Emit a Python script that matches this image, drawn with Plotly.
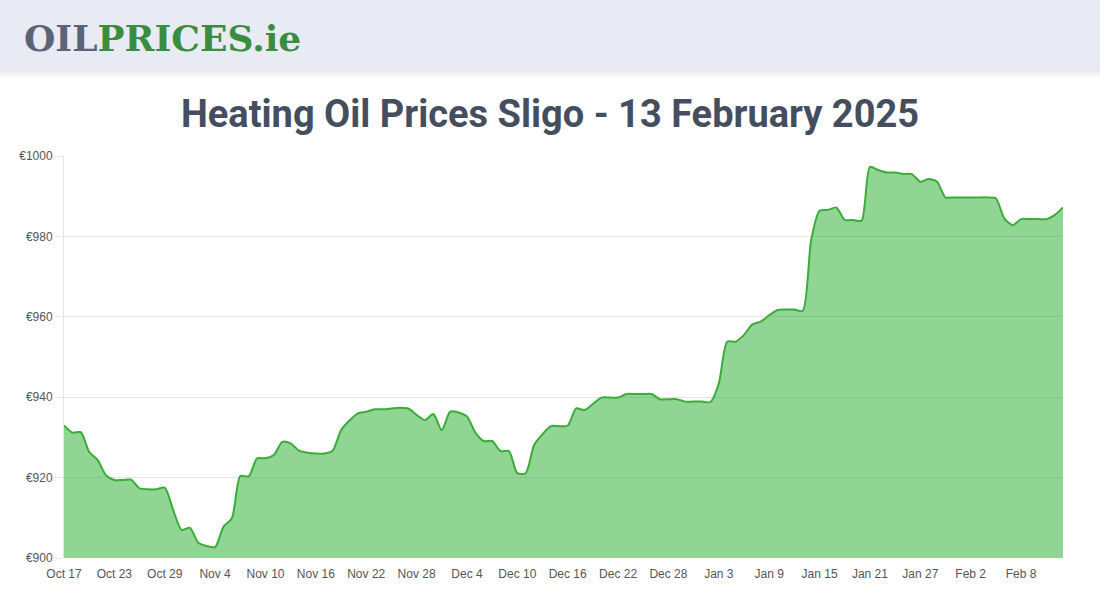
import pandas as pd
import plotly.graph_objects as go

start_date = "2024-10-17"
prices = [
    933, 931.2, 931.3, 926.4, 924.4, 920.6, 919.4, 919.4, 919.5, 917.3,
    917.1, 917.1, 917.5, 912, 907, 907.5, 903.8, 903, 902.7, 907.8,
    909.9, 920.4, 920.3, 924.8, 924.8, 925.6, 928.9, 928.5, 926.7, 926.2,
    926, 926, 926.7, 931.8, 934.2, 936, 936.4, 937, 937, 937.2,
    937.4, 937.2, 935.6, 934.3, 935.8, 931.8, 936.4, 936.2, 935.2, 931.2,
    929.1, 929.1, 926.6, 926.6, 921.1, 921.1, 928.1, 930.8, 932.8, 932.8,
    932.9, 937.2, 936.8, 938.3, 939.9, 939.9, 939.9, 940.8, 940.8, 940.8,
    940.8, 939.5, 939.5, 939.5, 938.9, 938.9, 938.9, 938.8, 943.4, 953.8,
    953.8, 955.5, 958.1, 958.8, 960.4, 961.7, 961.8, 961.8, 961.5, 979.1,
    986.4, 986.6, 987.2, 984.1, 984.1, 983.9, 997.3, 996.5, 995.9, 995.9,
    995.5, 995.5, 993.6, 994.3, 993.6, 989.7, 989.7, 989.7, 989.7, 989.7,
    989.7, 989.5, 984.5, 982.8, 984.3, 984.3, 984.3, 984.3, 985.3, 987.2,
]
dates = pd.date_range(start_date, periods=len(prices), freq="D")

tick_dates = ["2024-10-17", "2024-10-23", "2024-10-29", "2024-11-04", "2024-11-10",
              "2024-11-16", "2024-11-22", "2024-11-28", "2024-12-04", "2024-12-10",
              "2024-12-16", "2024-12-22", "2024-12-28", "2025-01-03", "2025-01-09",
              "2025-01-15", "2025-01-21", "2025-01-27", "2025-02-02", "2025-02-08"]
tick_labels = ["Oct 17", "Oct 23", "Oct 29", "Nov 4", "Nov 10", "Nov 16", "Nov 22",
               "Nov 28", "Dec 4", "Dec 10", "Dec 16", "Dec 22", "Dec 28", "Jan 3",
               "Jan 9", "Jan 15", "Jan 21", "Jan 27", "Feb 2", "Feb 8"]
y_ticks = [900, 920, 940, 960, 980, 1000]
y_labels = ["€900", "€920", "€940", "€960", "€980", "€1000"]
title_text = "Heating Oil Prices Sligo - 13 February 2025"

W, H = 1100, 600
L, R, T, B = 64, 37, 156, 42
PW, PH = W - L - R, H - T - B


def px_x(px):
    return (px - L) / PW


def px_y(py):
    return (H - B - py) / PH


fig = go.Figure()
fig.add_trace(go.Scatter(
    x=dates, y=prices, mode="lines",
    line=dict(color="#3aac37", width=2, shape="spline", smoothing=0.7),
    fill="tozeroy", fillcolor="rgba(35,171,41,0.5)",
    hoverinfo="skip", showlegend=False,
))

shapes = []
# header shadow
for i, a in enumerate([0.035, 0.025, 0.018, 0.012, 0.008, 0.005]):
    shapes.append(dict(type="rect", xref="paper", yref="paper",
                       x0=px_x(0), x1=px_x(W), y0=px_y(71 + i * 2), y1=px_y(69),
                       fillcolor=f"rgba(0,0,0,{a})", line=dict(width=0), layer="below"))
shapes.append(dict(type="rect", xref="paper", yref="paper",
                   x0=px_x(0), x1=px_x(W), y0=px_y(70), y1=px_y(0),
                   fillcolor="#e8ebf3", line=dict(width=0), layer="below"))

annotations = [
    dict(xref="paper", yref="paper", x=px_x(22), y=px_y(38), xanchor="left", yanchor="middle",
         text="<b><span style='color:#5b6477'>OIL</span><span style='color:#3a8d3e'>PRICES.ie</span></b>",
         showarrow=False, font=dict(family="DejaVu Serif", size=36)),
    dict(xref="paper", yref="paper", x=px_x(550), y=px_y(114), xanchor="center", yanchor="middle",
         text="<b>" + title_text + "</b>", showarrow=False,
         font=dict(family="Roboto", size=38, color="#454e5e")),
]

fig.update_layout(
    width=W, height=H,
    margin=dict(l=L, r=R, t=T, b=B),
    paper_bgcolor="white", plot_bgcolor="white",
    shapes=shapes, annotations=annotations,
    xaxis=dict(
        range=[dates[0], dates[-1]],
        tickvals=tick_dates, ticktext=tick_labels,
        showgrid=False, zeroline=False, showline=False,
        ticks="outside", ticklen=5, tickcolor="rgba(0,0,0,0)",
        tickfont=dict(family="Liberation Sans, Arial", size=12, color="#555555"),
        fixedrange=True,
    ),
    yaxis=dict(
        range=[900, 1000], tickvals=y_ticks, ticktext=y_labels,
        showgrid=True, gridcolor="#e4e4e4", gridwidth=1,
        zeroline=False, showline=True, linecolor="#e4e4e4", linewidth=1,
        ticks="outside", ticklen=8, tickcolor="#e4e4e4",
        tickfont=dict(family="Liberation Sans, Arial", size=12, color="#555555"),
        fixedrange=True,
    ),
)

fig.write_html("out.html")
